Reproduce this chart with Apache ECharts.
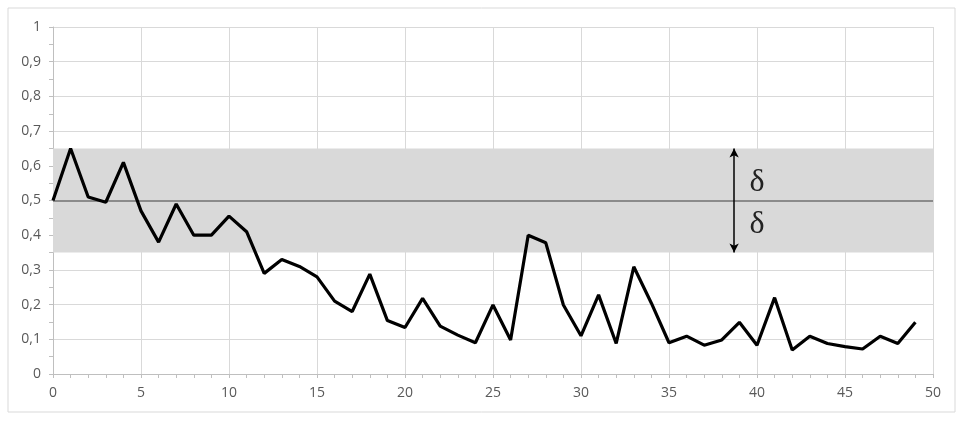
<!DOCTYPE html>
<html>
<head>
<meta charset="utf-8">
<script src="https://cdn.jsdelivr.net/npm/echarts@6/dist/echarts.min.js"></script>
<style>
  html, body { margin: 0; padding: 0; background: #fff; }
  #chart { width: 965px; height: 422px; }
</style>
</head>
<body>
<div id="chart"></div>
<script>
// values, x = 0..49
const xs = [0,1,2,3,4,5,6,7,8,9,10,11,12,13,14,15,16,17,18,19,20,21,22,23,24,25,26,27,28,29,30,31,32,33,34,35,36,37,38,39,40,41,42,43,44,45,46,47,48,49];
const ys = [0.5,0.65,0.51,0.495,0.61,0.47,0.38,0.49,0.40,0.40,0.455,0.41,0.29,0.33,0.31,0.28,0.21,0.18,0.288,0.154,0.134,0.218,0.138,0.112,0.09,0.199,0.098,0.40,0.378,0.199,0.11,0.228,0.088,0.309,0.204,0.09,0.109,0.083,0.098,0.149,0.083,0.22,0.069,0.109,0.088,0.079,0.072,0.109,0.088,0.149];
const center = 0.5;
const delta = 0.15;
const arrowX = 38.7;
const deltaLabelX = 40.0;
const deltaLabelY = [0.552, 0.432];

const chart = echarts.init(document.getElementById('chart'));

const labelStyle = { color: '#595959', fontSize: 14, fontFamily: 'Open Sans' };

chart.setOption({
  animation: false,
  graphic: [{
    type: 'rect',
    shape: { x: 8, y: 8, width: 947, height: 404 },
    style: { fill: 'none', stroke: '#d9d9d9', lineWidth: 1 },
    z: -1
  }],
  grid: { left: 53, right: 32, top: 27, bottom: 48 },
  xAxis: {
    type: 'value',
    min: 0, max: 50, interval: 5,
    axisLine: { show: true, lineStyle: { color: '#bfbfbf' } },
    axisTick: { show: true, length: 4, lineStyle: { color: '#bfbfbf' } },
    minorTick: { show: true, splitNumber: 5, length: 4, lineStyle: { color: '#bfbfbf' } },
    splitLine: { show: true, lineStyle: { color: '#d9d9d9' } },
    axisLabel: Object.assign({ margin: 12 }, labelStyle)
  },
  yAxis: {
    type: 'value',
    min: 0, max: 1, interval: 0.1,
    axisLine: { show: true, lineStyle: { color: '#bfbfbf' } },
    axisTick: { show: true, length: 4, lineStyle: { color: '#bfbfbf' } },
    minorTick: { show: true, splitNumber: 2, length: 4, lineStyle: { color: '#bfbfbf' } },
    splitLine: { show: true, lineStyle: { color: '#d9d9d9' } },
    axisLabel: Object.assign({
      margin: 12,
      formatter: v => String(Math.round(v * 10) / 10).replace('.', ',')
    }, labelStyle)
  },
  series: [
    {
      // band and centre line
      type: 'line',
      data: [],
      markArea: {
        silent: true,
        itemStyle: { color: '#d9d9d9', opacity: 1 },
        data: [[{ yAxis: center - delta }, { yAxis: center + delta }]]
      },
      markLine: {
        silent: true,
        symbol: 'none',
        label: { show: false },
        lineStyle: { color: '#707070', width: 1.5, type: 'solid' },
        data: [{ yAxis: center }]
      },
      z: 1
    },
    {
      // delta arrow and labels
      type: 'line',
      data: [],
      markLine: {
        silent: true,
        symbol: ['arrow', 'arrow'],
        symbolSize: [7, 9],
        label: { show: false },
        lineStyle: { color: '#000', width: 1.5, type: 'solid' },
        data: [[{ coord: [arrowX, center - delta] }, { coord: [arrowX, center + delta] }]]
      },
      markPoint: {
        silent: true,
        symbol: 'circle',
        symbolSize: 0,
        label: {
          show: true, position: 'inside', formatter: 'δ',
          color: '#222', fontSize: 32, fontFamily: 'Liberation Serif'
        },
        data: deltaLabelY.map(v => ({ coord: [deltaLabelX, v] }))
      },
      z: 3
    },
    {
      type: 'line',
      data: xs.map((x, i) => [x, ys[i]]),
      showSymbol: false,
      lineStyle: { color: '#000', width: 3.2 },
      z: 5
    }
  ]
});
</script>
</body>
</html>
